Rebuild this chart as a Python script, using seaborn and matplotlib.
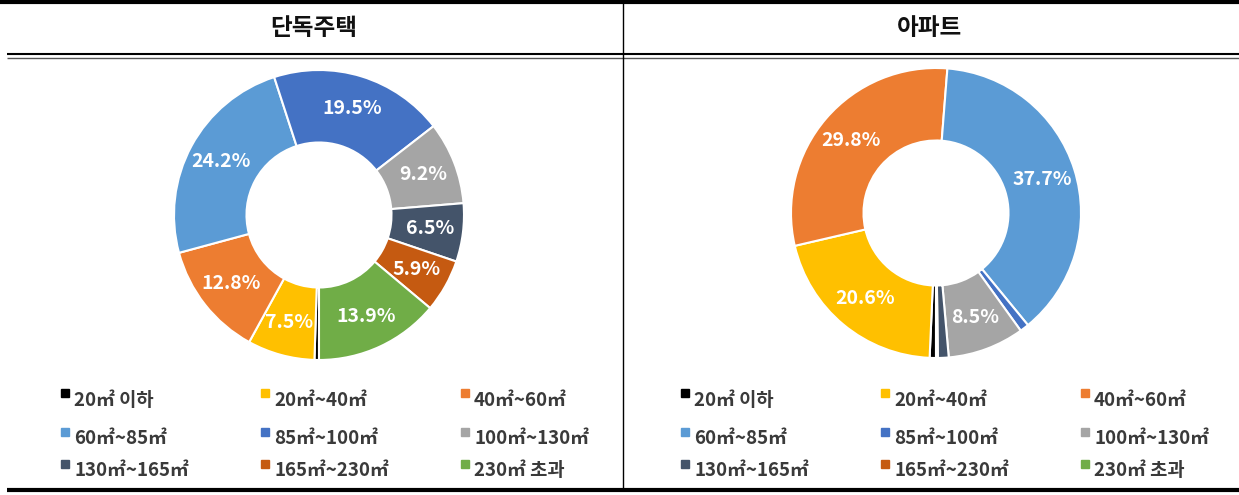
import matplotlib
matplotlib.use("Agg")
import matplotlib.pyplot as plt
from matplotlib.lines import Line2D
from matplotlib.patches import Rectangle
import numpy as np
import seaborn as sns

# ---------------- data ----------------
categories = ["20㎡ 이하", "20㎡~40㎡", "40㎡~60㎡",
              "60㎡~85㎡", "85㎡~100㎡", "100㎡~130㎡",
              "130㎡~165㎡", "165㎡~230㎡", "230㎡ 초과"]
panel_titles = ["단독주택", "아파트"]
house_values = [0.5, 7.5, 12.8, 24.2, 19.5, 9.2, 6.5, 5.9, 13.9]
apt_values = [0.7, 20.6, 29.8, 37.7, 1.0, 8.5, 1.2, 0.1, 0.1]
colors = ["#000000", "#FFC000", "#ED7D31", "#5B9BD5", "#4472C4",
          "#A5A5A5", "#44546A", "#C55A11", "#70AD47"]

sns.set_theme(style="white")
plt.rcParams['font.family'] = ['Noto Sans CJK KR', 'DejaVu Sans']
palette = sns.color_palette(colors)

W, H = 1239, 495
fig = plt.figure(figsize=(W / 100, H / 100), dpi=100)
fig.patch.set_facecolor("white")


def fx(x):
    return x / W


def fy(y):
    return 1 - y / H


def hline(y, x0, x1, lw, color="black"):
    fig.add_artist(Line2D([fx(x0), fx(x1)], [fy(y), fy(y)], lw=lw, color=color,
                          transform=fig.transFigure, solid_capstyle="butt"))


# table lines
hline(1.5, 0, W, 3.0)
hline(54, 7, W, 1.5)
hline(57.5, 7, W, 1.0, color="#555555")
hline(490, 7, W, 3.0)
fig.add_artist(Line2D([fx(623), fx(623)], [fy(0), fy(490)], lw=1.0, color="black",
                      transform=fig.transFigure))

panels = [
    dict(title=panel_titles[0], values=house_values, cx=319, cy=215, tx=314, off=0),
    dict(title=panel_titles[1], values=apt_values, cx=936, cy=213, tx=930, off=620),
]

R = 145
for p in panels:
    fig.text(fx(p["tx"]), fy(28), p["title"], ha="center", va="center",
             fontsize=17, fontweight="bold", color="#111111")
    ax = fig.add_axes([fx(p["cx"] - R), fy(p["cy"] + R), 2 * R / W, 2 * R / H])
    wedges, _ = ax.pie(p["values"], colors=palette, startangle=-90, counterclock=False,
                       radius=1.0,
                       wedgeprops=dict(width=0.5, edgecolor="white", linewidth=1.5))
    ax.set_xlim(-1, 1)
    ax.set_ylim(-1, 1)
    ax.set_aspect("equal")
    ax.axis("off")
    for w, v in zip(wedges, p["values"]):
        if v < 2:
            continue
        ang = np.deg2rad((w.theta1 + w.theta2) / 2)
        r = 0.77
        ax.text(r * np.cos(ang), r * np.sin(ang), f"{v:.1f}%", ha="center", va="center",
                fontsize=14, fontweight="bold", color="white")

    # legend
    col_x = [61, 261, 461]
    row_y = [398, 437, 469]
    for i, (cat, col) in enumerate(zip(categories, palette)):
        r_, c_ = divmod(i, 3)
        mx = col_x[c_] + p["off"]
        my = row_y[r_]
        fig.add_artist(Rectangle((fx(mx), fy(my - 1)), 8 / W, 8 / H, color=col,
                                 transform=fig.transFigure))
        fig.text(fx(mx + 13), fy(my + 2), cat, ha="left", va="center",
                 fontsize=13.5, fontweight="bold", color="#3a3a3a")

fig.savefig("out.png", dpi=100)
